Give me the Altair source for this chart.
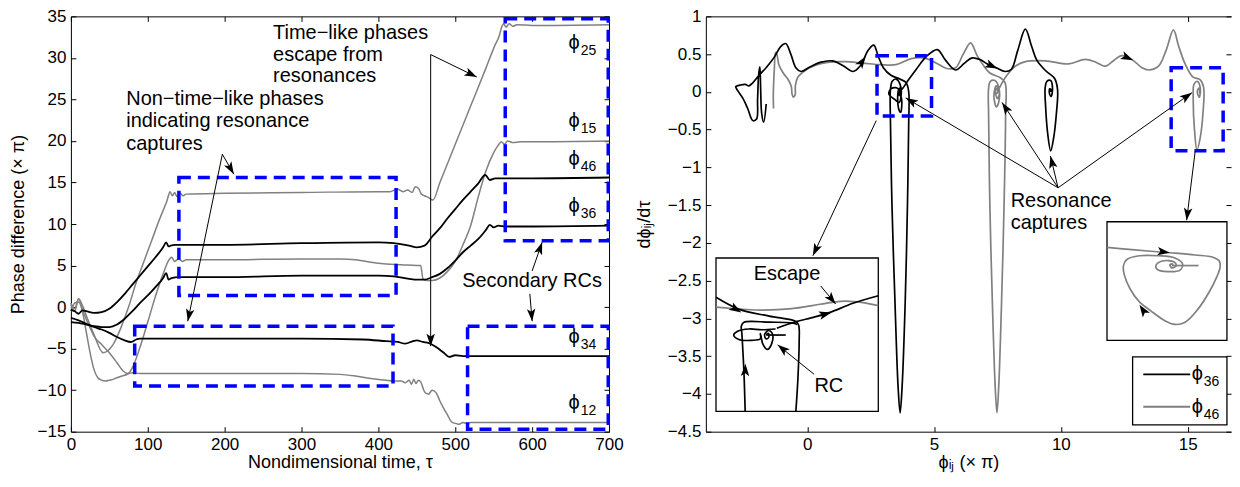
import math
import altair as alt
import pandas as pd

FONT = "Liberation Sans"
GRAY = "#808080"
BLUE = "#0000ff"

# ======================= LEFT PANEL DATA =======================
tau_phi25 = [0, 5, 10, 15, 20, 25, 30, 42, 55, 65, 75, 85, 95, 105, 115, 125, 129, 132, 135, 138, 142, 146, 150,
             200, 300, 400, 415, 425, 432, 438, 444, 448, 452, 456, 460, 465, 471, 480, 500, 520, 540, 552, 557,
             560, 563, 566, 570, 575, 580, 600, 700]
val_phi25 = [0.3, -0.5, 1.0, 0.2, -1.0, -2.2, -3.3, -5.5, -4.5, -2.5, 0.0, 3.0, 5.5, 8.0, 10.5, 12.8, 13.9, 13.4,
             13.8, 13.3, 13.7, 13.4, 13.6, 13.7, 13.8, 13.9, 13.9, 14.2, 13.9, 14.1, 13.8, 14.5, 14.3, 13.6, 13.4,
             13.2, 12.9, 15.0, 19.6, 24.2, 28.8, 31.6, 32.6, 33.6, 34.1, 33.7, 34.1, 33.8, 34.0, 33.9, 34.0]

tau_phi15 = [0, 5, 10, 15, 20, 25, 30, 40, 50, 60, 68, 74, 80, 90, 100, 110, 120, 127, 131, 135, 140, 145, 150,
             200, 300, 350, 370, 390, 410, 430, 450, 455, 458, 462, 470, 480, 490, 500, 510, 520, 530, 540, 550,
             556, 560, 564, 568, 575, 585, 600, 700]
val_phi15 = [-0.5, 0.5, 0.6, -0.3, -1.5, -2.5, -3.5, -4.5, -5.5, -6.7, -7.7, -8.0, -7.3, -4.8, -1.8, 1.3, 4.0, 5.6,
             6.0, 5.5, 5.8, 5.5, 5.7, 5.7, 5.8, 5.8, 5.7, 5.4, 5.2, 5.1, 5.0, 5.0, 3.4, 3.2, 3.2, 3.5, 4.3, 5.5,
             7.5, 9.8, 13.3, 16.4, 18.6, 19.5, 19.9, 19.6, 20.0, 19.8, 19.9, 19.9, 20.0]

tau_phi12 = [0, 5, 10, 15, 20, 25, 30, 35, 40, 45, 50, 55, 60, 70, 80, 90, 100, 200, 300, 350, 370, 390, 410, 420,
             430, 435, 440, 443, 446, 449, 452, 455, 460, 465, 470, 475, 480, 485, 490, 495, 500, 505, 510, 515,
             520, 600, 700]
val_phi12 = [0.5, -0.2, 1.0, -0.5, -3.0, -5.5, -7.5, -8.5, -8.8, -8.9, -8.8, -8.7, -8.5, -8.2, -7.9, -8.0, -8.0,
             -8.0, -8.0, -8.1, -8.3, -8.6, -8.8, -8.9, -8.9, -9.1, -8.8, -9.3, -8.7, -9.2, -8.8, -9.0, -10.2,
             -10.5, -10.0, -10.3, -11.3, -12.2, -13.0, -13.8, -14.0, -14.1, -13.9, -14.0, -13.9, -13.9, -13.9]

tau_phi46 = [0, 5, 10, 15, 20, 30, 40, 50, 60, 70, 80, 90, 100, 110, 120, 124, 127, 130, 135, 150, 200, 300, 400,
             420, 440, 450, 460, 470, 480, 490, 500, 510, 520, 530, 539, 545, 552, 560, 580, 600, 700]
val_phi46 = [-0.3, -0.5, -0.8, -0.4, -0.5, -0.7, -0.6, -0.2, 0.6, 1.6, 2.7, 3.8, 4.9, 6.0, 7.2, 7.8, 7.3, 7.4,
             7.5, 7.5, 7.5, 7.7, 7.8, 7.7, 7.4, 7.2, 7.4, 8.5, 9.5, 10.7, 11.8, 12.9, 13.9, 14.9, 15.9, 15.3,
             15.5, 15.5, 15.5, 15.5, 15.6]

tau_phi36 = [0, 10, 20, 30, 40, 50, 60, 70, 80, 90, 100, 110, 120, 124, 127, 131, 140, 200, 300, 400, 420, 440,
             450, 460, 470, 480, 490, 500, 510, 520, 530, 540, 545, 550, 556, 565, 600, 700]
val_phi36 = [-1.8, -1.9, -2.1, -2.3, -2.4, -2.4, -2.1, -1.4, -0.5, 0.5, 1.4, 2.4, 3.5, 4.1, 3.3, 3.5, 3.6, 3.6,
             3.8, 3.8, 3.7, 3.4, 3.3, 3.3, 3.6, 4.0, 4.7, 5.6, 6.6, 7.4, 8.2, 9.3, 9.9, 9.6, 9.8, 9.7, 9.7, 9.8]

tau_phi34 = [0, 10, 20, 30, 40, 50, 60, 70, 78, 85, 90, 100, 200, 300, 380, 410, 425, 435, 445, 450, 458, 465,
             475, 485, 492, 500, 510, 600, 700]
val_phi34 = [-1.3, -1.6, -2.0, -2.4, -2.7, -3.1, -3.6, -4.0, -4.2, -3.9, -3.8, -3.8, -3.8, -3.8, -3.9, -4.1, -4.2,
             -4.4, -4.1, -4.0, -4.2, -4.3, -4.8, -5.5, -6.0, -5.8, -5.9, -5.9, -5.9]

left_label_subs = ["25", "15", "46", "36", "34", "12"]
left_label_vals = [31.8, 22.4, 17.8, 12.2, -3.6, -11.6]
left_label_tau = 662

left_box_x0 = [140.5, 83, 565, 516]
left_box_x1 = [423, 419, 699, 699]
left_box_y0 = [15.6, -2.3, 34.7, -2.3]
left_box_y1 = [1.4, -9.5, 8.0, -14.7]

left_texts = ["Time−like phases", "escape from", "resonances",
              "Non−time−like phases", "indicating resonance", "captures", "Secondary RCs"]
left_text_tau = [263, 263, 263, 72, 72, 72, 509]
left_text_val = [33.0, 30.4, 27.8, 25.0, 22.4, 19.6, 3.2]

left_arrows = [(468, 30.4, 528, 27.7), (468, 30.4, 468, -4.7), (197, 18.4, 212, 16.0),
               (197, 18.4, 152, -1.7), (600, 4.35, 613, 7.8), (597, 1.6, 600, -1.7)]

# ======================= RIGHT PANEL DATA =======================
phi36_path = [(-1.62, -0.16), (-1.72, -0.40), (-1.80, -0.28), (-1.84, 0.05), (-1.87, 0.33), (-1.92, 0.22),
              (-1.96, -0.10), (-2.00, -0.36), (-2.15, -0.38), (-2.35, -0.22), (-2.55, -0.08), (-2.75, 0.02),
              (-2.82, 0.07), (-2.65, 0.09), (-2.45, 0.10), (-2.30, 0.08), (-2.15, 0.12), (-1.90, 0.22),
              (-1.60, 0.33), (-1.30, 0.46), (-1.05, 0.60), (-0.85, 0.64), (-0.65, 0.50), (-0.45, 0.32),
              (-0.25, 0.27), (0.10, 0.33), (0.50, 0.39), (1.00, 0.41), (1.40, 0.35), (1.80, 0.27), (2.10, 0.35),
              (2.40, 0.55), (2.62, 0.62), (2.80, 0.47), (3.00, 0.32), (3.30, 0.22), (3.65, 0.17), (3.90, 0.12),
              (4.00, 0.00), (4.00, -0.40), (3.95, -1.50), (3.86, -2.80), (3.74, -3.90), (3.66, -4.25),
              (3.58, -3.90), (3.46, -2.80), (3.34, -1.50), (3.28, -0.40), (3.28, 0.03), (3.35, 0.14),
              (3.50, 0.17), (3.66, 0.10), (3.70, -0.05), (3.62, -0.14), (3.45, -0.10), (3.22, -0.03),
              (3.30, 0.04), (3.55, 0.05), (3.72, -0.10), (3.68, -0.27), (3.60, -0.22), (3.58, 0.00),
              (3.65, 0.05), (3.70, 0.00), (3.64, -0.05), (3.60, 0.00), (3.64, 0.02), (3.72, 0.03), (3.95, 0.14),
              (4.30, 0.30), (4.70, 0.47), (5.13, 0.56), (5.45, 0.42), (5.85, 0.29), (6.20, 0.38), (6.50, 0.45),
              (6.80, 0.43), (7.10, 0.37), (7.45, 0.32), (7.80, 0.27), (8.05, 0.30), (8.30, 0.55), (8.60, 0.83),
              (8.85, 0.60), (9.05, 0.42), (9.40, 0.28), (9.75, 0.18), (9.87, 0.03), (9.82, -0.30), (9.72, -0.60),
              (9.60, -0.78), (9.48, -0.55), (9.40, -0.20), (9.38, 0.05), (9.45, 0.14), (9.60, 0.15), (9.67, 0.05),
              (9.62, -0.06), (9.55, -0.02), (9.56, 0.04), (9.61, 0.03), (9.60, 0.00)]

phi46_path = [(-1.33, -0.22), (-1.34, -0.05), (-1.30, 0.30), (-1.25, 0.52), (-1.20, 0.50), (-1.12, 0.36),
              (-0.95, 0.25), (-0.75, 0.16), (-0.63, 0.07), (-0.60, -0.03), (-0.55, -0.07), (-0.48, -0.04),
              (-0.47, 0.08), (-0.38, 0.19), (-0.10, 0.28), (0.30, 0.35), (0.80, 0.39), (1.50, 0.40), (2.20, 0.38),
              (2.90, 0.36), (3.50, 0.36), (4.10, 0.44), (4.60, 0.45), (5.10, 0.38), (5.50, 0.31), (5.85, 0.32),
              (6.15, 0.50), (6.44, 0.65), (6.70, 0.48), (6.95, 0.35), (7.20, 0.25), (7.60, 0.19), (7.80, 0.12),
              (7.82, -0.30), (7.76, -1.50), (7.66, -2.80), (7.55, -3.90), (7.48, -4.25), (7.41, -3.90),
              (7.30, -2.80), (7.20, -1.50), (7.15, -0.30), (7.15, 0.05), (7.22, 0.14), (7.40, 0.15), (7.55, 0.06),
              (7.56, -0.12), (7.46, -0.20), (7.36, -0.06), (7.45, 0.08), (7.58, 0.00), (7.50, -0.09),
              (7.42, 0.00), (7.48, 0.05), (7.52, 0.00), (7.48, -0.02), (7.62, 0.08), (7.85, 0.21), (8.20, 0.34),
              (8.60, 0.40), (9.40, 0.41), (10.30, 0.37), (10.96, 0.43), (11.40, 0.39), (11.75, 0.34),
              (12.10, 0.42), (12.40, 0.48), (12.80, 0.43), (13.20, 0.32), (13.46, 0.29), (13.85, 0.34),
              (14.15, 0.55), (14.44, 0.82), (14.65, 0.60), (14.90, 0.37), (15.20, 0.20), (15.50, 0.16),
              (15.63, 0.06), (15.60, -0.30), (15.50, -0.60), (15.37, -0.77), (15.27, -0.50), (15.22, -0.10),
              (15.25, 0.10), (15.38, 0.14), (15.50, 0.05), (15.46, -0.07), (15.38, 0.00), (15.44, 0.05),
              (15.48, 0.00), (15.44, -0.01)]

# inset 1 (zoom of the phi36 capture) drawn in main-axis units
ins1_black_in = [(-3.6, -2.72), (-2.68, -2.88), (-1.5, -2.97), (-0.45, -3.04), (-0.34, -3.09), (-0.32, -3.3),
                 (-0.37, -3.8), (-0.45, -4.23)]
ins1_black_up = [(-2.45, -4.23), (-2.5, -3.7), (-2.58, -3.2), (-2.6, -3.1), (-2.5, -3.05), (-1.5, -3.05),
                 (-0.6, -3.06), (-0.4, -3.08)]
ins1_black_loop = [(-1.25, -3.14), (-1.8, -3.15), (-2.3, -3.14), (-2.75, -3.17), (-2.9, -3.22), (-2.7, -3.28),
                   (-2.2, -3.29), (-1.85, -3.27), (-1.85, -3.2), (-1.75, -3.34), (-1.58, -3.41), (-1.4, -3.33),
                   (-1.38, -3.2), (-1.52, -3.16), (-1.68, -3.21), (-1.63, -3.27), (-1.52, -3.25), (-1.53, -3.2),
                   (-1.6, -3.21), (-1.57, -3.23)]
ins1_black_tail = [(-1.57, -3.22), (-0.85, -3.22)]
ins1_black_out = [(-1.2, -3.13), (-0.8, -3.08), (-0.4, -3.04), (0.3, -2.98), (0.9, -2.92), (1.8, -2.8),
                  (2.8, -2.7)]
ins1_gray = [(-3.6, -2.85), (-2.5, -2.88), (-1.76, -2.89), (-0.6, -2.87), (0.2, -2.83), (0.9, -2.79),
             (1.52, -2.77), (2.2, -2.79), (2.8, -2.83)]
# inset 2 (zoom of the phi46 capture)
ins2_gray = [(11.82, -2.06), (12.8, -2.09), (14.3, -2.13), (15.3, -2.16), (16.0, -2.19), (16.25, -2.24),
             (16.28, -2.32), (16.15, -2.45), (15.85, -2.65), (15.4, -2.88), (14.9, -3.05), (14.5, -3.08),
             (14.1, -3.03), (13.55, -2.9), (13.1, -2.78), (12.75, -2.62), (12.5, -2.42), (12.47, -2.3),
             (12.6, -2.22), (13.1, -2.17), (13.85, -2.17), (14.5, -2.2), (14.8, -2.28), (14.7, -2.36),
             (14.2, -2.38), (13.8, -2.35), (13.75, -2.3), (14.0, -2.24), (14.45, -2.25), (14.55, -2.3),
             (14.38, -2.33), (14.3, -2.29), (14.4, -2.28), (14.42, -2.3)]
ins2_gray_tail = [(14.38, -2.30), (15.43, -2.30)]

inset_x0 = [-3.6, 11.82]
inset_x1 = [2.8, 16.55]
inset_y0 = [-2.2, -1.72]
inset_y1 = [-4.23, -3.29]

right_box_x0 = [2.75, 14.35]
right_box_x1 = [4.9, 16.4]
right_box_y0 = [0.48, 0.32]
right_box_y1 = [-0.32, -0.78]

right_arrows = [(2.72, -0.38, 0.22, -2.17), (9.89, -1.27, 3.88, -0.08), (9.89, -1.27, 7.68, -0.14),
                (9.89, -1.27, 9.59, -0.85), (9.89, -1.27, 15.17, -0.01), (15.3, -0.78, 14.96, -1.70),
                (0.53, -2.57, 1.12, -2.81), (0.27, -3.74, -1.17, -3.35)]
right_heads_only = [(2.0, 0.32, 2.3, 0.47), (7.1, 0.37, 7.5, 0.31), (12.45, 0.48, 12.85, 0.42),
                    (-3.2, -2.8, -2.6, -2.92), (0.3, -2.98, 0.95, -2.92), (-2.47, -3.9, -2.44, -3.6),
                    (13.6, -2.1, 14.3, -2.13), (13.4, -2.97, 13.1, -2.82)]

right_texts_left = ["Resonance", "captures"]
right_texts_left_x = [8.02, 8.02]
right_texts_left_y = [-1.44, -1.73]
right_texts_center = ["Escape", "RC"]
right_texts_center_x = [-0.8, 0.85]
right_texts_center_y = [-2.41, -3.89]

# legend (drawn with marks): series, sample line and label anchor
legend_subs = ["36", "46"]
legend_colors = ["black", GRAY]
legend_line_x0 = 13.25
legend_line_x1 = 15.1
legend_row_y = [-3.74, -4.17]
legend_label_x = 15.6
legend_box = (12.83, 16.55, -3.51, -4.41)

# ======================= GEOMETRY =======================
LW, LH = 539, 416
RW, RH = 526, 416
L_XD, L_YD = [0, 700], [-15, 35]
R_XD, R_YD = [-4, 16.71], [-4.5, 1]
ARROW = "M0,-1L0.6,0.75L0,0.35L-0.6,0.75Z"
HEAD_SIZE = 200


def head_rows(arrows, sx, sy):
    r = math.sqrt(HEAD_SIZE) / 2
    rows = []
    for (x1, y1, x2, y2) in arrows:
        dxp = (x2 - x1) * sx
        dyp = -(y2 - y1) * sy
        ln = math.hypot(dxp, dyp)
        ux, uy = dxp / ln, dyp / ln
        ang = math.degrees(math.atan2(ux, -uy)) % 360
        rows.append({"x": x2 - ux * r / sx, "y": y2 + uy * r / sy, "ang": ang})
    return pd.DataFrame(rows)


def path_rows(pairs, col, seg):
    return [{"x": x, "y": y, "i": k, "col": col, "seg": seg} for k, (x, y) in enumerate(pairs)]


def tick_axes(xvals, yvals, W, H, right_domain):
    a_x = alt.Axis(orient="top", offset=-H, values=xvals, labels=False, ticks=True, tickSize=5,
                   domain=False, title=None, grid=False)
    a_y = alt.Axis(orient="right", offset=-W, values=yvals, labels=False, ticks=True, tickSize=5,
                   domain=False, title=None, grid=False)
    b_x = alt.Axis(orient="bottom", offset=-H, values=xvals, labels=False, ticks=True, tickSize=5,
                   domain=True, title=None, grid=False)
    b_y = alt.Axis(orient="left", offset=-W, values=yvals, labels=False, ticks=True, tickSize=5,
                   domain=right_domain, title=None, grid=False)
    return a_x, a_y, b_x, b_y


# ======================= LEFT PANEL =======================
lxs = alt.Scale(domain=L_XD, nice=False, zero=False)
lys = alt.Scale(domain=L_YD, nice=False, zero=False)
L_XV = list(range(0, 701, 100))
L_YV = list(range(-15, 36, 5))


def LX(f, axis=None):
    return alt.X(f, type="quantitative", scale=lxs, axis=axis)


def LY(f, axis=None):
    return alt.Y(f, type="quantitative", scale=lys, axis=axis)


rows = []
for name, ts, vs, col in [("25", tau_phi25, val_phi25, GRAY), ("15", tau_phi15, val_phi15, GRAY),
                          ("12", tau_phi12, val_phi12, GRAY), ("46", tau_phi46, val_phi46, "black"),
                          ("36", tau_phi36, val_phi36, "black"), ("34", tau_phi34, val_phi34, "black")]:
    for t, v in zip(ts, vs):
        rows.append({"t": t, "v": v, "s": name, "col": col})
left_df = pd.DataFrame(rows)

lmain_x = alt.Axis(values=L_XV, format="d", title="Nondimensional time, τ", ticks=False, domain=True,
                   labelFlush=False, labelOverlap=False, labelPadding=5, titlePadding=1, grid=False)
lmain_y = alt.Axis(values=L_YV, format="d", title="Phase difference (× π)", ticks=False, domain=True,
                   labelOverlap=False, labelPadding=5, titlePadding=10, grid=False)
la_x, la_y, lb_x, lb_y = tick_axes(L_XV, L_YV, LW, LH, True)

l_gray = alt.Chart(left_df[left_df.col == GRAY]).mark_line(interpolate="monotone", strokeWidth=1.5).encode(
    x=LX("t", lmain_x), y=LY("v", lmain_y), detail="s:N", color=alt.Color("col:N", scale=None))
l_black = alt.Chart(left_df[left_df.col == "black"]).mark_line(interpolate="monotone", strokeWidth=1.8).encode(
    x=LX("t"), y=LY("v"), detail="s:N", color=alt.Color("col:N", scale=None))

lbox_df = pd.DataFrame({"x0": left_box_x0, "x1": left_box_x1, "y0": left_box_y0, "y1": left_box_y1})
l_boxes = alt.Chart(lbox_df).mark_rect(fillOpacity=0, stroke=BLUE, strokeWidth=3.5, strokeDash=[12, 7]).encode(
    x=LX("x0", la_x), x2="x1", y=LY("y0", la_y), y2="y1")

larr_df = pd.DataFrame(left_arrows, columns=["x0", "y0", "x1", "y1"])
l_rules = alt.Chart(larr_df).mark_rule(color="black", strokeWidth=1).encode(
    x=LX("x0"), y=LY("y0"), x2="x1", y2="y1")
l_heads = alt.Chart(head_rows(left_arrows, LW / 700, LH / 50)).mark_point(
    shape=ARROW, filled=True, color="black", size=HEAD_SIZE, opacity=1, strokeWidth=0).encode(
    x=LX("x"), y=LY("y"), angle=alt.Angle("ang:Q", scale=None))

ltext_df = pd.DataFrame({"txt": left_texts, "x": left_text_tau, "y": left_text_val})
l_text = alt.Chart(ltext_df).mark_text(font=FONT, fontSize=20, align="left", baseline="middle",
                                       color="black").encode(
    x=LX("x", lb_x), y=LY("y", lb_y), text="txt:N")

llab_df = pd.DataFrame({"g": ["ϕ"] * len(left_label_subs), "sub": left_label_subs,
                        "x": [left_label_tau] * len(left_label_subs), "y": left_label_vals})
l_phi = alt.Chart(llab_df).mark_text(font=FONT, fontSize=20, align="right", baseline="middle",
                                     color="black").encode(x=LX("x"), y=LY("y"), text="g:N")
l_sub = alt.Chart(llab_df).mark_text(font=FONT, fontSize=14, align="left", baseline="middle", dx=1, dy=8,
                                     color="black").encode(x=LX("x"), y=LY("y"), text="sub:N")

left = alt.layer(l_gray, l_black, l_boxes, l_rules, l_heads, l_text, l_phi, l_sub).resolve_axis(
    x="independent", y="independent").properties(width=LW, height=LH)

# ======================= RIGHT PANEL =======================
rxs = alt.Scale(domain=R_XD, nice=False, zero=False)
rys = alt.Scale(domain=R_YD, nice=False, zero=False)
R_XV = [0, 5, 10, 15]
R_YV = [-4.5, -4, -3.5, -3, -2.5, -2, -1.5, -1, -0.5, 0, 0.5, 1]


def RX(f, axis=None):
    return alt.X(f, type="quantitative", scale=rxs, axis=axis)


def RY(f, axis=None):
    return alt.Y(f, type="quantitative", scale=rys, axis=axis)


rmain_df = pd.DataFrame(path_rows(phi46_path, GRAY, "m46") + path_rows(phi36_path, "black", "m36"))
rins_df = pd.DataFrame(
    path_rows(ins1_gray, GRAY, "g1") + path_rows(ins2_gray, GRAY, "g2") + path_rows(ins2_gray_tail, GRAY, "g3")
    + path_rows(ins1_black_in, "black", "b1") + path_rows(ins1_black_up, "black", "b2")
    + path_rows(ins1_black_loop, "black", "b3") + path_rows(ins1_black_tail, "black", "b4")
    + path_rows(ins1_black_out, "black", "b5"))

rmain_x = alt.Axis(values=R_XV, format="d", title="ϕᵢⱼ (× π)", ticks=False, domain=True, labelFlush=False,
                   labelOverlap=False, labelPadding=5, titlePadding=1, grid=False)
rmain_y = alt.Axis(values=R_YV, format=".1~f", title="dϕᵢⱼ/dτ", ticks=False, domain=True,
                   labelOverlap=False, labelPadding=5, titlePadding=14, grid=False)
ra_x, ra_y, rb_x, rb_y = tick_axes(R_XV, R_YV, RW, RH, False)

r_main = alt.Chart(rmain_df).mark_line(interpolate="catmull-rom", strokeWidth=1.7).encode(
    x=RX("x", rmain_x), y=RY("y", rmain_y), detail="seg:N", order="i:Q", color=alt.Color("col:N", scale=None))

rbox_df = pd.DataFrame({"x0": right_box_x0, "x1": right_box_x1, "y0": right_box_y0, "y1": right_box_y1})
r_boxes = alt.Chart(rbox_df).mark_rect(fillOpacity=0, stroke=BLUE, strokeWidth=3.5, strokeDash=[12, 7]).encode(
    x=RX("x0", ra_x), x2="x1", y=RY("y0", ra_y), y2="y1")

rinset_df = pd.DataFrame({"x0": inset_x0 + [legend_box[0]], "x1": inset_x1 + [legend_box[1]],
                          "y0": inset_y0 + [legend_box[2]], "y1": inset_y1 + [legend_box[3]]})
r_insets = alt.Chart(rinset_df).mark_rect(fill="white", stroke="black", strokeWidth=1.3).encode(
    x=RX("x0"), x2="x1", y=RY("y0"), y2="y1")

r_inlines = alt.Chart(rins_df).mark_line(interpolate="catmull-rom", strokeWidth=1.7).encode(
    x=RX("x"), y=RY("y"), detail="seg:N", order="i:Q", color=alt.Color("col:N", scale=None))

rarr_df = pd.DataFrame(right_arrows, columns=["x0", "y0", "x1", "y1"])
r_rules = alt.Chart(rarr_df).mark_rule(color="black", strokeWidth=1).encode(
    x=RX("x0"), y=RY("y0"), x2="x1", y2="y1")
sxr, syr = RW / (R_XD[1] - R_XD[0]), RH / (R_YD[1] - R_YD[0])
rhead_df = pd.concat([head_rows(right_arrows, sxr, syr), head_rows(right_heads_only, sxr, syr)])
r_heads = alt.Chart(rhead_df).mark_point(shape=ARROW, filled=True, color="black", size=HEAD_SIZE, opacity=1,
                                         strokeWidth=0).encode(
    x=RX("x"), y=RY("y"), angle=alt.Angle("ang:Q", scale=None))

rtl_df = pd.DataFrame({"txt": right_texts_left, "x": right_texts_left_x, "y": right_texts_left_y})
r_text_l = alt.Chart(rtl_df).mark_text(font=FONT, fontSize=20, align="left", baseline="middle",
                                       color="black").encode(x=RX("x", rb_x), y=RY("y", rb_y), text="txt:N")
rtc_df = pd.DataFrame({"txt": right_texts_center, "x": right_texts_center_x, "y": right_texts_center_y})
r_text_c = alt.Chart(rtc_df).mark_text(font=FONT, fontSize=20, align="center", baseline="middle",
                                       color="black").encode(x=RX("x"), y=RY("y"), text="txt:N")

leg_df = pd.DataFrame({"x0": [legend_line_x0] * 2, "x1": [legend_line_x1] * 2, "y": legend_row_y,
                       "col": legend_colors, "g": ["ϕ", "ϕ"], "sub": legend_subs,
                       "lx": [legend_label_x] * 2})
r_leg_lines = alt.Chart(leg_df).mark_rule(strokeWidth=1.8).encode(
    x=RX("x0"), x2="x1", y=RY("y"), color=alt.Color("col:N", scale=None))
r_leg_phi = alt.Chart(leg_df).mark_text(font=FONT, fontSize=20, align="right", baseline="middle",
                                        color="black").encode(x=RX("lx"), y=RY("y"), text="g:N")
r_leg_sub = alt.Chart(leg_df).mark_text(font=FONT, fontSize=14, align="left", baseline="middle", dx=1, dy=8,
                                        color="black").encode(x=RX("lx"), y=RY("y"), text="sub:N")

right = alt.layer(r_main, r_boxes, r_insets, r_inlines, r_rules, r_heads, r_text_l, r_text_c,
                  r_leg_lines, r_leg_phi, r_leg_sub).resolve_axis(
    x="independent", y="independent").properties(width=RW, height=RH)

chart = alt.hconcat(left, right, spacing=10).properties(
    padding={"left": 0, "top": -2, "right": 0, "bottom": 0}
).configure_view(stroke="transparent").configure_axis(
    labelFont=FONT, titleFont=FONT, labelFontSize=17, titleFontSize=18, titleFontWeight="normal",
    labelColor="black", titleColor="black", domainColor="black", tickColor="black", domainWidth=1,
    tickWidth=1, grid=False)

chart.save("out.html", embed_options={"renderer": "svg", "actions": False})
